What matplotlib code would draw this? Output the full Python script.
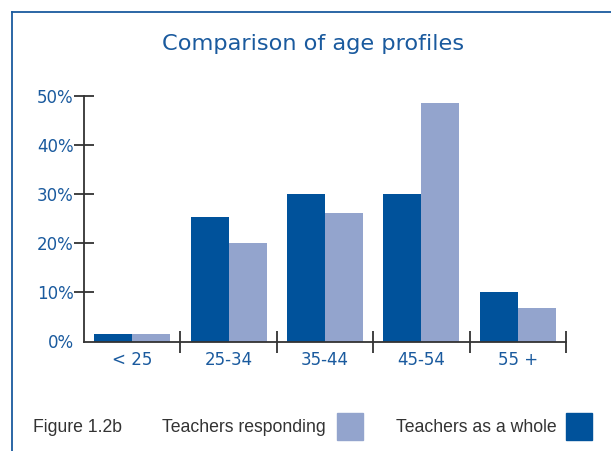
import matplotlib
matplotlib.use("Agg")
import matplotlib.pyplot as plt
import numpy as np
from matplotlib.patches import Rectangle
from matplotlib.lines import Line2D

categories = ["< 25", "25-34", "35-44", "45-54", "55 +"]
teachers_whole = [1.5, 25.4, 30.0, 30.0, 10.1]
teachers_responding = [1.5, 20.1, 26.2, 48.6, 6.8]
yticks = [0, 10, 20, 30, 40, 50]
ytick_labels = ["0%", "10%", "20%", "30%", "40%", "50%"]

DARK = "#00529B"
LIGHT = "#93A4CD"
BLUE_TXT = "#1A5A9E"
GREY = "#333333"

plt.rcParams['font.family'] = ['DejaVu Sans']

fig = plt.figure(figsize=(6.11, 4.51), dpi=100)
W, H = 611, 451

# frame lines (top and left)
fig.add_artist(Line2D([12/W, 12/W], [0, 1 - 11.7/H], transform=fig.transFigure,
                      color=BLUE_TXT, lw=1.3))
fig.add_artist(Line2D([12/W, 1], [1 - 11.7/H, 1 - 11.7/H], transform=fig.transFigure,
                      color=BLUE_TXT, lw=1.3))

left, right = 84/W, 566/W
bottom, top = (H - 341.5)/H, (H - 96)/H
ax = fig.add_axes([left, bottom, right - left, top - bottom])

x = np.arange(len(categories))
bw = 0.395
ax.bar(x - bw/2, teachers_whole, width=bw, color=DARK, zorder=2)
ax.bar(x + bw/2, teachers_responding, width=bw, color=LIGHT, zorder=2)

ax.set_xlim(-0.5, 4.5)
ax.set_ylim(0, 50)
for s in ["top", "right"]:
    ax.spines[s].set_visible(False)
for s in ["left", "bottom"]:
    ax.spines[s].set_color(GREY)
    ax.spines[s].set_linewidth(1.3)

ax.set_yticks(yticks)
ax.set_yticklabels(ytick_labels)
ax.tick_params(axis='y', direction='inout', length=15, width=1.3, color=GREY,
               labelcolor=BLUE_TXT, labelsize=12, pad=0)
ax.set_xticks(x)
ax.set_xticklabels(categories)
ax.tick_params(axis='x', which='major', length=0, labelcolor=BLUE_TXT,
               labelsize=12, pad=7)
ax.set_xticks(np.arange(0.5, 5, 1), minor=True)
ax.tick_params(axis='x', which='minor', direction='inout', length=16, width=1.3,
               color=GREY)
ax.yaxis.get_major_ticks()[0].tick1line.set_visible(False)

fig.text(313.5/W, 1 - 44.5/H, "Comparison of age profiles", ha='center', va='center',
         color=BLUE_TXT, fontsize=16.2)

# legend-like footer
ty = 1 - 428/H
ff = ['Liberation Sans', 'DejaVu Sans']
fig.text(33/W, ty, "Figure 1.2b", ha='left', va='center', color=GREY, fontsize=12.7, family=ff)
fig.text(162.5/W, ty, "Teachers responding", ha='left', va='center', color=GREY, fontsize=12.7, family=ff)
fig.text(395.5/W, ty, "Teachers as a whole", ha='left', va='center', color=GREY, fontsize=12.7, family=ff)
fig.add_artist(Rectangle((337/W, 1 - 440/H), 26/W, 27/H, transform=fig.transFigure,
                         color=LIGHT))
fig.add_artist(Rectangle((566/W, 1 - 440/H), 26/W, 27/H, transform=fig.transFigure,
                         color=DARK))

fig.savefig("out.png", dpi=100)
